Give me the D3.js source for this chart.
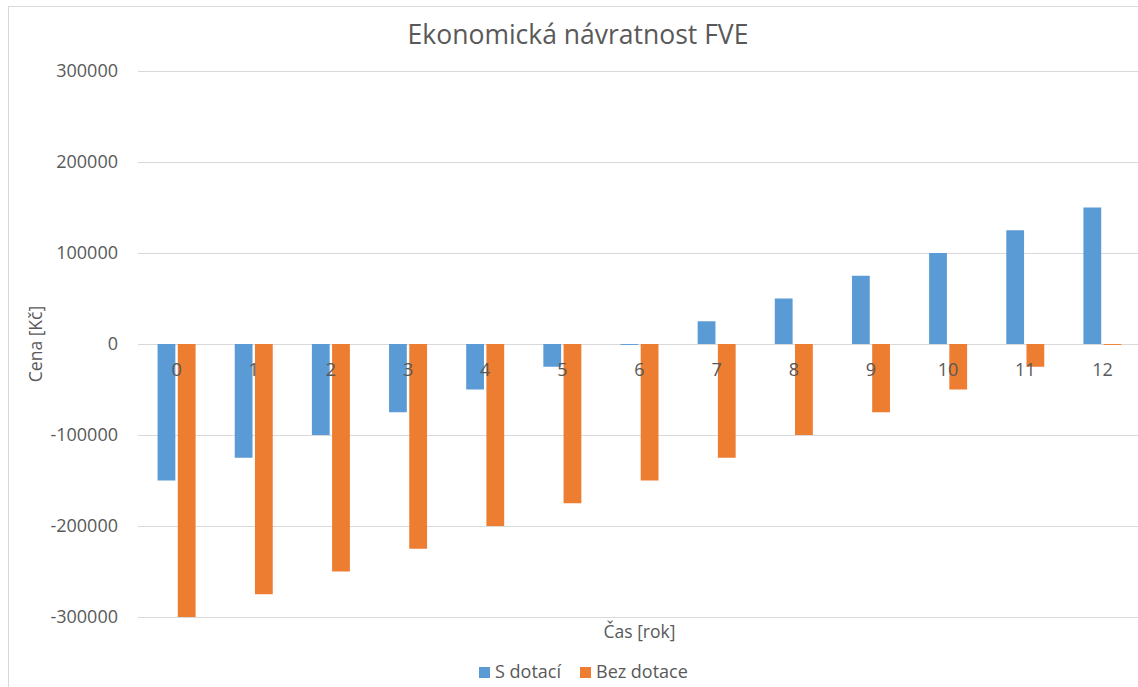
<!DOCTYPE html>
<html>
<head>
<meta charset="utf-8">
<script src="https://cdn.jsdelivr.net/npm/d3@7"></script>
<style>
  body { margin: 0; background: #fff; }
  text { font-family: "Open Sans", sans-serif; fill: #595959; }
</style>
</head>
<body>
<div class="canvas"></div>
<script>
const years = ['0', '1', '2', '3', '4', '5', '6', '7', '8', '9', '10', '11', '12'];
const sDotaci = [-150000, -125000, -100000, -75000, -50000, -25000, -1000, 25000, 50000, 75000, 100000, 125000, 150000];
const bezDotace = [-300000, -275000, -250000, -225000, -200000, -175000, -150000, -125000, -100000, -75000, -50000, -25000, -1000];
const yTicks = [-300000, -200000, -100000, 0, 100000, 200000, 300000];
const seriesNames = ['S dotací', 'Bez dotace'];
const colours = ['#5B9BD5', '#ED7D31'];

const dims = { width: 1138, height: 687, left: 138, right: 1141, top: 71, bottom: 617 };

const svg = d3.select('.canvas')
    .append('svg')
    .attr('width', dims.width)
    .attr('height', dims.height);

// chart border
svg.append('rect')
    .attr('x', 8.5).attr('y', 6.5)
    .attr('width', 1160).attr('height', 700)
    .attr('fill', 'none')
    .attr('stroke', '#D9D9D9');

const x = d3.scaleBand()
    .domain(years)
    .range([dims.left, dims.right]);

const inner = d3.scaleBand()
    .domain([0, 1])
    .range([0, 38])
    .paddingInner(0.12);

const y = d3.scaleLinear()
    .domain([-300000, 300000])
    .range([dims.bottom, dims.top]);

// gridlines + y labels
const yAxis = d3.axisLeft(y)
    .tickValues(yTicks)
    .tickSize(-(1138 - dims.left))
    .tickFormat(d => String(d))
    .tickPadding(20);

const gy = svg.append('g')
    .attr('transform', `translate(${dims.left},0)`)
    .call(yAxis);
gy.select('.domain').remove();
gy.selectAll('.tick line').attr('stroke', '#D9D9D9');
gy.selectAll('.tick text')
    .attr('fill', '#595959')
    .style('font-size', '18px')
    .style('font-family', '"Open Sans", sans-serif');

// bars
const rows = years.map((yr, i) => ({ yr, vals: [sDotaci[i], bezDotace[i]] }));

const groups = svg.append('g').selectAll('g')
    .data(rows)
    .enter()
    .append('g')
    .attr('transform', d => `translate(${x(d.yr) + x.bandwidth() / 2 - 19},0)`);

groups.selectAll('rect')
    .data(d => d.vals.map((v, k) => ({ v, k })))
    .enter()
    .append('rect')
    .attr('x', d => inner(d.k))
    .attr('width', inner.bandwidth())
    .attr('y', d => Math.min(y(d.v), y(0)))
    .attr('height', d => Math.abs(y(d.v) - y(0)))
    .attr('fill', d => colours[d.k]);

// category labels next to zero line
svg.append('g').selectAll('text')
    .data(years)
    .enter()
    .append('text')
    .attr('x', d => x(d) + x.bandwidth() / 2)
    .attr('y', y(0) + 32)
    .attr('text-anchor', 'middle')
    .style('font-size', '18px')
    .text(d => d);

// title
svg.append('text')
    .attr('x', 578)
    .attr('y', 44)
    .attr('text-anchor', 'middle')
    .style('font-size', '26.5px')
    .text('Ekonomická návratnost FVE');

// axis titles
svg.append('text')
    .attr('transform', `translate(42,${(dims.top + dims.bottom) / 2}) rotate(-90)`)
    .attr('text-anchor', 'middle')
    .style('font-size', '17.5px')
    .text('Cena [Kč]');

svg.append('text')
    .attr('x', (dims.left + dims.right) / 2)
    .attr('y', 638)
    .attr('text-anchor', 'middle')
    .style('font-size', '17.5px')
    .text('Čas [rok]');

// legend
const legend = svg.append('g');
const legendX = [479, 580];
seriesNames.forEach((name, i) => {
    legend.append('rect')
        .attr('x', legendX[i]).attr('y', 667)
        .attr('width', 11).attr('height', 11)
        .attr('fill', colours[i]);
    legend.append('text')
        .attr('x', legendX[i] + 16)
        .attr('y', 678)
        .style('font-size', '18px')
        .text(name);
});
</script>
</body>
</html>
